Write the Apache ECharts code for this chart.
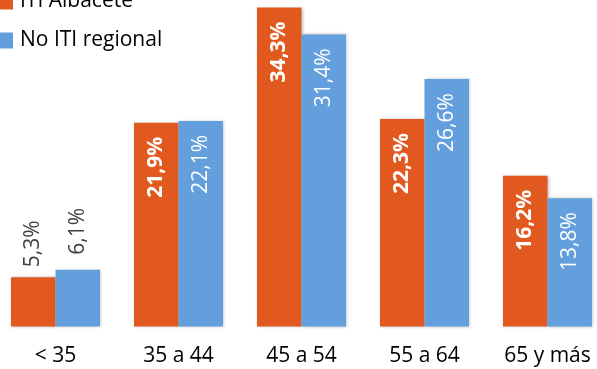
<!DOCTYPE html>
<html><head><meta charset="utf-8">
<script src="https://cdn.jsdelivr.net/npm/echarts@6/dist/echarts.min.js"></script>
<style>html,body{margin:0;padding:0;background:#fff}#c{width:597px;height:369px}</style>
</head><body><div id="c"></div>
<script>
const categories = ["< 35", "35 a 44", "45 a 54", "55 a 64", "65 y más"];
const itiAlbacete = [5.3, 21.9, 34.3, 22.3, 16.2];
const noItiRegional = [6.1, 22.1, 31.4, 26.6, 13.8];
const seriesNames = ["ITI Albacete", "No ITI regional"];

const FONT = "Open Sans";
const fmt = v => v.toFixed(1).replace('.', ',') + '%';

function mkData(arr, outsideDist) {
  return arr.map((v, i) => {
    if (i === 0) {
      return { value: v, label: { position: 'top', align: 'left', distance: outsideDist, color: '#404040', fontWeight: 'normal' } };
    }
    return v;
  });
}

const chart = echarts.init(document.getElementById('c'));
chart.setOption({
  animation: false,
  legend: {
    orient: 'vertical', left: 0, top: -9, padding: 0, itemWidth: 13, itemHeight: 16, itemGap: 18,
    icon: 'rect',
    textStyle: { fontFamily: FONT, fontSize: 21, fontWeight: 500, color: '#000', padding: [0, 0, 0, 2] },
    data: seriesNames
  },
  grid: { left: -6, width: 615, top: 1, bottom: 42.5, outerBoundsMode: 'none', containLabel: false },
  xAxis: {
    type: 'category', data: categories,
    axisLine: { show: false }, axisTick: { show: false },
    axisLabel: { fontFamily: FONT, fontSize: 21, fontWeight: 500, color: '#000', margin: 19 }
  },
  yAxis: { type: 'value', min: 0, max: 35, show: false, splitLine: { show: false } },
  series: [
    {
      name: seriesNames[0], type: 'bar', barWidth: 44.5, barGap: '0%',
      itemStyle: { color: '#E1591E', shadowBlur: 3, shadowColor: 'rgba(0,0,0,0.25)', shadowOffsetX: 1 },
      label: { show: true, rotate: 90, position: 'insideTop', align: 'right', verticalAlign: 'middle', distance: 14,
        color: '#fff', fontWeight: 'bold', fontFamily: FONT, fontSize: 21, formatter: p => fmt(p.value) },
      data: mkData(itiAlbacete, 10)
    },
    {
      name: seriesNames[1], type: 'bar', barWidth: 44.5,
      itemStyle: { color: '#639FDC', shadowBlur: 3, shadowColor: 'rgba(0,0,0,0.25)', shadowOffsetX: 1 },
      label: { show: true, rotate: 90, position: 'insideTop', align: 'right', verticalAlign: 'middle', distance: 14,
        color: '#fff', fontWeight: 'normal', fontFamily: FONT, fontSize: 21, formatter: p => fmt(p.value) },
      data: mkData(noItiRegional, 15)
    }
  ]
});
</script></body></html>
